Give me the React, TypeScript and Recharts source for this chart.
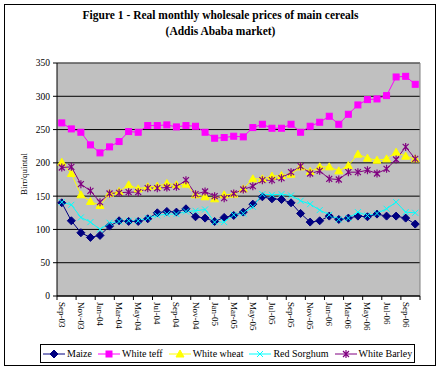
import { LineChart, Line, XAxis, YAxis, CartesianGrid, ReferenceLine, Legend } from 'recharts';

// monthly categories, Sep-03 .. Oct-06
const months = [
  'Sep-03', 'Oct-03', 'Nov-03', 'Dec-03',
  'Jan-04', 'Feb-04', 'Mar-04', 'Apr-04', 'May-04', 'Jun-04', 'Jul-04', 'Aug-04', 'Sep-04', 'Oct-04', 'Nov-04', 'Dec-04',
  'Jan-05', 'Feb-05', 'Mar-05', 'Apr-05', 'May-05', 'Jun-05', 'Jul-05', 'Aug-05', 'Sep-05', 'Oct-05', 'Nov-05', 'Dec-05',
  'Jan-06', 'Feb-06', 'Mar-06', 'Apr-06', 'May-06', 'Jun-06', 'Jul-06', 'Aug-06', 'Sep-06', 'Oct-06',
];

const maize = [140, 113, 95, 88, 91, 105, 113, 112, 112, 116, 125, 127, 126, 131, 119, 117, 112, 118, 121, 126, 138, 149, 146, 145, 140, 124, 111, 113, 120, 115, 117, 120, 119, 123, 120, 120, 117, 108];
const whiteTeff = [260, 251, 246, 227, 215, 224, 232, 247, 246, 256, 256, 257, 254, 256, 255, 246, 237, 238, 240, 239, 253, 258, 252, 252, 258, 246, 255, 261, 270, 258, 273, 287, 295, 296, 301, 329, 330, 318];
const whiteWheat = [201, 184, 152, 142, 136, 154, 157, 167, 161, 164, 165, 169, 167, 168, 152, 149, 146, 152, 153, 161, 176, 176, 180, 181, 183, 194, 187, 194, 194, 188, 196, 213, 207, 204, 206, 216, 210, 206];
const redSorghum = [141, 137, 118, 111, 100, 110, 112, 113, 113, 117, 121, 123, 123, 127, 128, 130, 111, 111, 122, 124, 134, 153, 152, 153, 151, 143, 138, 129, 122, 115, 117, 126, 121, 124, 131, 141, 126, 125];
const whiteBarley = [193, 194, 168, 158, 141, 154, 155, 156, 156, 162, 162, 163, 164, 174, 153, 157, 150, 147, 154, 160, 165, 174, 174, 177, 186, 195, 184, 188, 176, 175, 186, 186, 189, 184, 191, 205, 224, 206];

const yTicks = [0, 50, 100, 150, 200, 250, 300, 350];

const FONT = '"Liberation Serif", "Times New Roman", serif';
const PLOT_W = 363;
const HALF_BAND = PLOT_W / months.length / 2;

const data = months.map((m, i) => ({
  pos: i + 0.5,
  month: m,
  maize: maize[i],
  teff: whiteTeff[i],
  wheat: whiteWheat[i],
  sorghum: redSorghum[i],
  barley: whiteBarley[i],
}));

// tick marks every second month, on the category boundaries
const boundaryTicks = months.map((_, i) => i).filter(i => i % 2 === 0).concat(months.length);

type MarkerProps = { cx: number; cy: number; color: string };

const Diamond = ({ cx, cy, color }: MarkerProps) => (
  <path d={`M${cx},${cy - 4}L${cx + 4},${cy}L${cx},${cy + 4}L${cx - 4},${cy}Z`} fill={color} stroke={color} />
);
const Square = ({ cx, cy, color }: MarkerProps) => (
  <rect x={cx - 3} y={cy - 3} width={6} height={6} fill={color} stroke={color} />
);
const Triangle = ({ cx, cy, color }: MarkerProps) => (
  <path d={`M${cx},${cy - 4}L${cx + 4},${cy + 3}L${cx - 4},${cy + 3}Z`} fill={color} stroke={color} />
);
const Cross = ({ cx, cy, color }: MarkerProps) => (
  <path d={`M${cx - 3},${cy - 3}L${cx + 3},${cy + 3}M${cx - 3},${cy + 3}L${cx + 3},${cy - 3}`} stroke={color} strokeWidth={1} fill="none" />
);
const Star = ({ cx, cy, color }: MarkerProps) => (
  <path d={`M${cx - 3},${cy - 3}L${cx + 3},${cy + 3}M${cx - 3},${cy + 3}L${cx + 3},${cy - 3}M${cx},${cy - 4}L${cx},${cy + 4}`} stroke={color} strokeWidth={1.2} fill="none" />
);

const series = [
  { key: 'maize', name: 'Maize', color: '#000080', Marker: Diamond },
  { key: 'teff', name: 'White teff', color: '#FF00FF', Marker: Square },
  { key: 'wheat', name: 'White wheat', color: '#FFFF00', Marker: Triangle },
  { key: 'sorghum', name: 'Red Sorghum', color: '#00FFFF', Marker: Cross },
  { key: 'barley', name: 'White Barley', color: '#800080', Marker: Star },
];

const MonthTick = ({ x, y, payload }: any) => {
  const label = months[payload.value];
  return (
    <g>
      <line x1={x} y1={y} x2={x} y2={y + 4} stroke="#000" />
      {label && (
        <text
          transform={`translate(${x + HALF_BAND},${y + 6}) rotate(90)`}
          textAnchor="start"
          dominantBaseline="central"
          fontSize={9}
          fontFamily={FONT}
          fill="#000"
        >
          {label}
        </text>
      )}
    </g>
  );
};

const LegendBox = () => (
  <div
    style={{
      boxSizing: 'border-box',
      height: '100%',
      border: '1px solid #000',
      background: '#fff',
      display: 'flex',
      alignItems: 'center',
      paddingLeft: 2,
      gap: 6,
      fontFamily: FONT,
      fontSize: 10,
      color: '#000',
    }}
  >
    {series.map(s => (
      <div key={s.key} style={{ display: 'flex', alignItems: 'center' }}>
        <svg width={22} height={10}>
          <line x1={0} y1={5} x2={22} y2={5} stroke={s.color} />
          <s.Marker cx={11} cy={5} color={s.color} />
        </svg>
        <span style={{ marginLeft: 2, whiteSpace: 'nowrap' }}>{s.name}</span>
      </div>
    ))}
  </div>
);

export default function App() {
  return (
    <div style={{ position: 'absolute', left: 0, top: 0, width: 441, height: 370, background: '#fff' }}>
      <div
        style={{
          position: 'absolute',
          left: 0,
          top: 7,
          width: 441,
          textAlign: 'center',
          fontFamily: FONT,
          fontWeight: 'bold',
          fontSize: 11.5,
          lineHeight: '16px',
          color: '#000',
        }}
      >
        Figure 1 - Real monthly wholesale prices of main cereals
        <br />
        (Addis Ababa market)
      </div>

      <div
        style={{
          position: 'absolute',
          left: 24,
          top: 174,
          transform: 'translate(-50%, -50%) rotate(-90deg)',
          fontFamily: FONT,
          fontSize: 9,
          whiteSpace: 'nowrap',
          color: '#000',
        }}
      >
        Birr/quintal
      </div>

      <LineChart width={441} height={370} data={data} margin={{ top: 63, right: 21, bottom: 4, left: 7 }}>
        <CartesianGrid vertical={false} stroke="#000" fill="#C0C0C0" fillOpacity={1} />
        <XAxis
          dataKey="pos"
          type="number"
          domain={[0, months.length]}
          ticks={boundaryTicks}
          interval={0}
          tickSize={0}
          tickMargin={0}
          tickLine={false}
          tick={<MonthTick />}
          axisLine={{ stroke: '#000' }}
          height={70}
        />
        <YAxis
          domain={[0, 350]}
          ticks={yTicks}
          interval={0}
          width={50}
          tickSize={4}
          tickMargin={3}
          axisLine={{ stroke: '#000' }}
          tickLine={{ stroke: '#000' }}
          tick={{ fill: '#000', fontSize: 9.5, fontFamily: FONT }}
        />
        <ReferenceLine y={350} stroke="#808080" />
        <ReferenceLine x={months.length} stroke="#808080" />
        {series.map(s => (
          <Line
            key={s.key}
            type="linear"
            dataKey={s.key}
            name={s.name}
            stroke={s.color}
            strokeWidth={1}
            dot={(p: any) => <s.Marker key={p.index} cx={p.cx} cy={p.cy} color={s.color} />}
            activeDot={false}
            isAnimationActive={false}
          />
        ))}
        <Legend
          layout="horizontal"
          verticalAlign="middle"
          align="center"
          content={<LegendBox />}
          wrapperStyle={{ position: 'absolute', left: 40, top: 344, width: 375, height: 19 }}
        />
      </LineChart>

      <div
        style={{
          position: 'absolute',
          left: 4,
          top: 4,
          width: 432,
          height: 362,
          boxSizing: 'border-box',
          border: '1px solid #000',
          pointerEvents: 'none',
        }}
      />
    </div>
  );
}
